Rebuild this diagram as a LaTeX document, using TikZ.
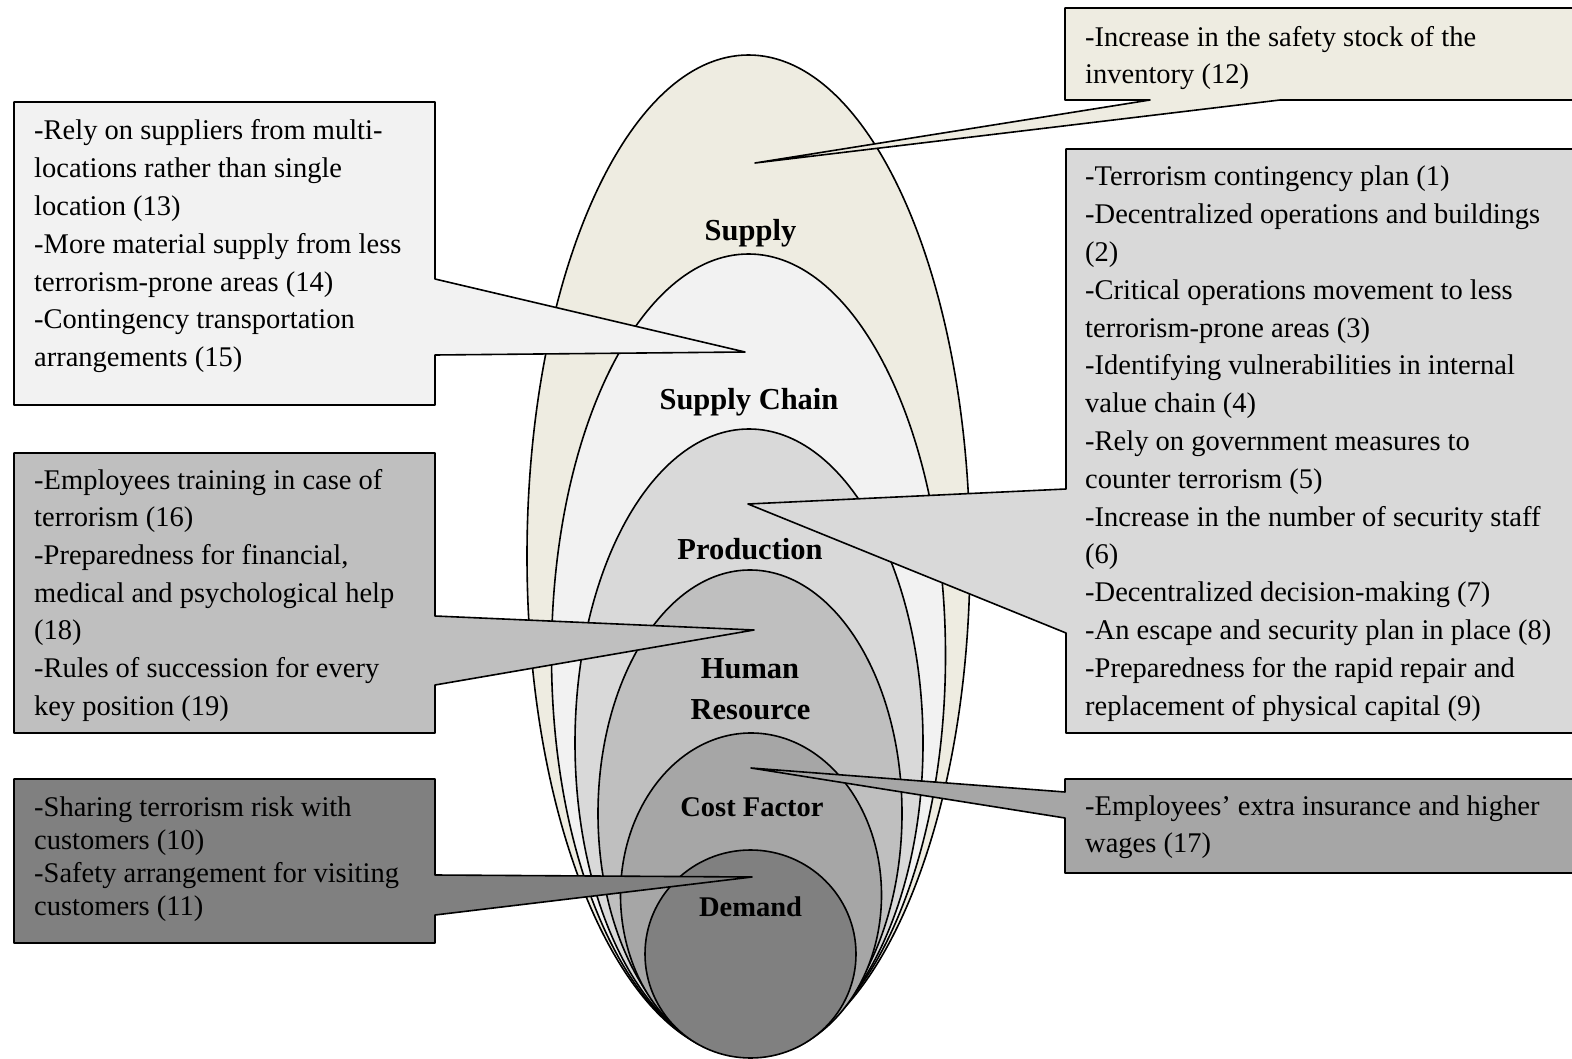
\documentclass[tikz,border=0pt]{standalone}
\usepackage{fontspec}
\setmainfont{Liberation Serif}
\definecolor{supplyfill}{HTML}{EEECE1}
\definecolor{chainfill}{HTML}{F2F2F2}
\definecolor{prodfill}{HTML}{D9D9D9}
\definecolor{hrfill}{HTML}{BFBFBF}
\definecolor{costfill}{HTML}{A6A6A6}
\definecolor{demandfill}{HTML}{808080}
% a block of callout text, first baseline at the node's base anchor
\newcommand{\notelines}[2]{\begin{minipage}[t]{500pt}\fontsize{28.5}{#1}\selectfont\raggedright #2\end{minipage}}
\begin{document}
\begin{tikzpicture}[x=1pt,y=-1pt,
  rim/.style={draw=black, line width=1.6pt, line join=round},
  notetext/.style={anchor=base west, inner sep=0pt},
  layerlabel/.style={anchor=base, inner sep=0pt, font=\bfseries\fontsize{30.5}{41}\selectfont},
  smalllabel/.style={anchor=base, inner sep=0pt, font=\bfseries\fontsize{28.5}{34}\selectfont},
]
\useasboundingbox (0,0) rectangle (1572,1059);
\clip (0,0) rectangle (1572,1059);

% nested layers, outermost first
\draw[rim, fill=supplyfill] (748.5,556) ellipse [x radius=221.5pt, y radius=501pt];
\draw[rim, fill=chainfill] (748.5,655.5) ellipse [x radius=197pt, y radius=401.5pt];
\draw[rim, fill=prodfill] (749,743) ellipse [x radius=174pt, y radius=314pt];
\draw[rim, fill=hrfill] (750,813.5) ellipse [x radius=152pt, y radius=243.5pt];
\draw[rim, fill=costfill] (751,895) ellipse [x radius=130.5pt, y radius=162pt];
\draw[rim, fill=demandfill] (750.5,954) ellipse [x radius=105.5pt, y radius=104pt];

% layer names
\node[layerlabel] (lSupply) at (750.5,241) {Supply};
\node[layerlabel] (lChain) at (749,409) {Supply Chain};
\node[layerlabel] (lProd) at (750,559) {Production};
\node[layerlabel] (lHuman) at (750,678) {Human};
\node[layerlabel] (lResource) at (750.5,719) {Resource};
\node[smalllabel] (lCost) at (752,816) {Cost Factor};
\node[smalllabel] (lDemand) at (750.5,916) {Demand};

% callout pointer tips
\coordinate (pSupply) at (755,163);
\coordinate (pChain) at (745,352);
\coordinate (pProd) at (748,504);
\coordinate (pHR) at (754,630);
\coordinate (pCost) at (751,768);
\coordinate (pDemand) at (752,877);

% callout boxes
\draw[rim, fill=supplyfill] (1065,8) -- (1600,8) -- (1600,100) -- (1280,100) -- (pSupply) -- (1150,100) -- (1065,100) -- cycle;
\draw[rim, fill=chainfill] (14,102) -- (435,102) -- (435,279) -- (pChain) -- (435,355) -- (435,405) -- (14,405) -- cycle;
\draw[rim, fill=prodfill] (1066,149) -- (1600,149) -- (1600,733) -- (1066,733) -- (1066,633) -- (pProd) -- (1066,489) -- cycle;
\draw[rim, fill=hrfill] (14,453) -- (435,453) -- (435,616) -- (pHR) -- (435,685) -- (435,733) -- (14,733) -- cycle;
\draw[rim, fill=costfill] (1065,779) -- (1600,779) -- (1600,873) -- (1065,873) -- (1065,818) -- (pCost) -- (1065,792) -- cycle;
\draw[rim, fill=demandfill] (14,779) -- (435,779) -- (435,875) -- (pDemand) -- (435,915) -- (435,943) -- (14,943) -- cycle;

% callout texts
\node[notetext] (tSupply) at (1085,47) {\notelines{37}{-Increase in the safety stock of the\\inventory (12)}};
\node[notetext] (tChain) at (34,140) {\notelines{37.8}{-Rely on suppliers from multi-\\locations rather than single\\location (13)\\-More material supply from less\\terrorism-prone areas (14)\\-Contingency transportation\\arrangements (15)}};
\node[notetext] (tProd) at (1085,186) {\notelines{37.8}{-Terrorism contingency plan (1)\\-Decentralized operations and buildings\\(2)\\-Critical operations movement to less\\terrorism-prone areas (3)\\-Identifying vulnerabilities in internal\\value chain (4)\\-Rely on government measures to\\counter terrorism (5)\\-Increase in the number of security staff\\(6)\\-Decentralized decision-making (7)\\-An escape and security plan in place (8)\\-Preparedness for the rapid repair and\\replacement of physical capital (9)}};
\node[notetext] (tHR) at (34,489) {\notelines{37.7}{-Employees training in case of\\terrorism (16)\\-Preparedness for financial,\\medical and psychological help\\(18)\\-Rules of succession for every\\key position (19)}};
\node[notetext] (tCost) at (1085,815) {\notelines{37}{-Employees’ extra insurance and higher\\wages (17)}};
\node[notetext] (tDemand) at (34,816) {\notelines{33}{-Sharing terrorism risk with\\customers (10)\\-Safety arrangement for visiting\\customers (11)}};
\end{tikzpicture}
\end{document}
